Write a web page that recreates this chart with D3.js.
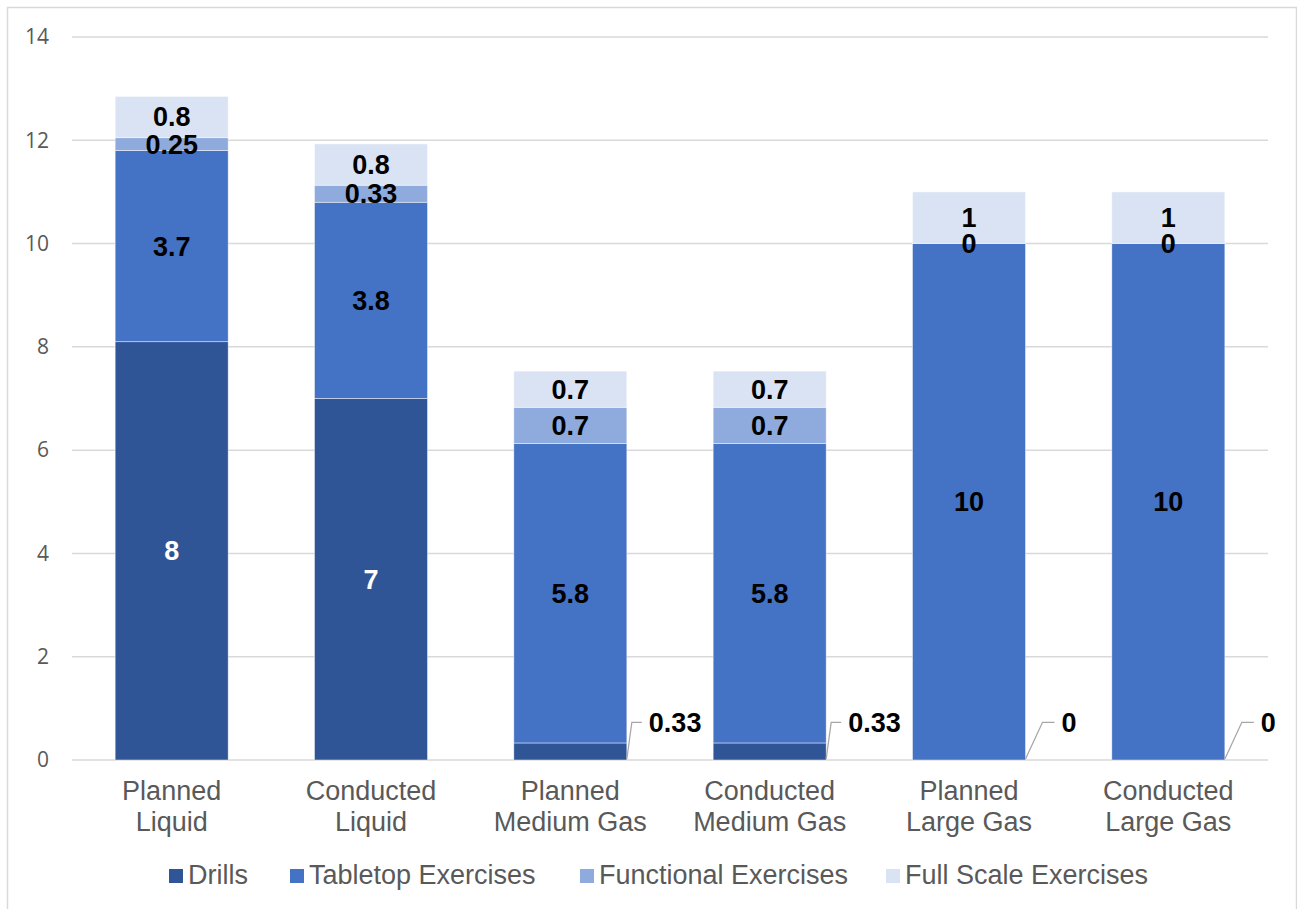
<!DOCTYPE html>
<html>
<head>
<meta charset="utf-8">
<script src="https://cdn.jsdelivr.net/npm/d3@7"></script>
<style>
  html, body { margin: 0; padding: 0; background: #fff; }
  svg { display: block; }
</style>
</head>
<body>
<div id="chart"></div>
<script>
var categories = [
  ['Planned', 'Liquid'],
  ['Conducted', 'Liquid'],
  ['Planned', 'Medium Gas'],
  ['Conducted', 'Medium Gas'],
  ['Planned', 'Large Gas'],
  ['Conducted', 'Large Gas']
];
var seriesNames = ['Drills', 'Tabletop Exercises', 'Functional Exercises', 'Full Scale Exercises'];
var drills = [8.1, 7, 0.33, 0.33, 0, 0];
var tabletop = [3.7, 3.8, 5.8, 5.8, 10, 10];
var functional = [0.25, 0.33, 0.7, 0.7, 0, 0];
var fullScale = [0.8, 0.8, 0.7, 0.7, 1, 1];
var drillsLabels = ['8', '7', '0.33', '0.33', '0', '0'];
var yTicks = [0, 2, 4, 6, 8, 10, 12, 14];

var width = 1297, height = 909;
var colors = ['#2f5597', '#4472c4', '#8faadc', '#dae3f3'];
var font = 'Liberation Sans, Arial, sans-serif';
var seriesValues = [drills, tabletop, functional, fullScale];

var svg = d3.select('#chart').append('svg')
  .attr('width', width)
  .attr('height', height);

// outer chart border
svg.append('rect')
  .attr('x', 7.5).attr('y', 7.5)
  .attr('width', 1289).attr('height', 920)
  .attr('fill', 'none')
  .attr('stroke', '#d9d9d9')
  .attr('stroke-width', 1.5);

var x = d3.scaleBand()
  .domain(d3.range(categories.length))
  .range([72, 1268])
  .paddingInner(0.433)
  .paddingOuter(0.2165);

var y = d3.scaleLinear()
  .domain([0, 14])
  .range([760, 37]);

// gridlines
svg.append('g')
  .selectAll('line')
  .data(yTicks)
  .enter()
  .append('line')
  .attr('x1', 72).attr('x2', 1268)
  .attr('y1', function (d) { return y(d); })
  .attr('y2', function (d) { return y(d); })
  .attr('stroke', '#d9d9d9')
  .attr('stroke-width', 1.5);

// y tick labels
var yAxis = d3.axisLeft(y).tickValues(yTicks).tickSize(0).tickPadding(0);
var gy = svg.append('g')
  .attr('transform', 'translate(49,0)')
  .call(yAxis);
gy.select('.domain').remove();
gy.selectAll('text')
  .attr('font-family', 'Open Sans, Liberation Sans, sans-serif')
  .attr('font-size', 21)
  .attr('fill', '#595959');

// stack
var rows = categories.map(function (c, i) {
  return { i: i, s0: drills[i], s1: tabletop[i], s2: functional[i], s3: fullScale[i] };
});
var stack = d3.stack().keys(['s0', 's1', 's2', 's3']);
var layers = stack(rows);

var layerG = svg.append('g')
  .selectAll('g')
  .data(layers)
  .enter()
  .append('g')
  .attr('fill', function (d, k) { return colors[k]; });

layerG.selectAll('rect')
  .data(function (d) { return d; })
  .enter()
  .append('rect')
  .attr('x', function (d, i) { return x(i); })
  .attr('y', function (d) { return y(d[1]); })
  .attr('width', x.bandwidth())
  .attr('height', function (d) { return y(d[0]) - y(d[1]); })
  .attr('stroke', 'rgba(255,255,255,0.6)')
  .attr('stroke-width', 0.75);

// data labels
var labelG = svg.append('g')
  .attr('font-family', font)
  .attr('font-size', 27)
  .attr('font-weight', 'bold');

layers.forEach(function (layer, k) {
  layer.forEach(function (d, i) {
    var v = seriesValues[k][i];
    var txt = k === 0 ? drillsLabels[i] : String(v);
    if (k === 0 && v < 1) {
      // small drills value: label outside with leader line
      var bx = x(i) + x.bandwidth();
      var far = v === 0;
      var ly = y(0.73);
      var kx = bx + (far ? 17 : 5);
      var ex = bx + (far ? 29 : 15);
      labelG.append('path')
        .attr('d', 'M' + bx + ',' + (y(0) - 1) + 'L' + kx + ',' + ly + 'L' + ex + ',' + ly)
        .attr('fill', 'none')
        .attr('stroke', '#a6a6a6')
        .attr('stroke-width', 1.25);
      labelG.append('text')
        .attr('x', ex + 7)
        .attr('y', ly)
        .attr('dy', '0.35em')
        .attr('fill', '#000')
        .text(txt);
      return;
    }
    labelG.append('text')
      .attr('x', x(i) + x.bandwidth() / 2)
      .attr('y', (y(d[0]) + y(d[1])) / 2)
      .attr('dy', '0.35em')
      .attr('text-anchor', 'middle')
      .attr('fill', k === 0 ? '#fff' : '#000')
      .text(txt);
  });
});

// category labels
var catG = svg.append('g')
  .attr('font-family', font)
  .attr('font-size', 27)
  .attr('fill', '#595959')
  .attr('text-anchor', 'middle');

categories.forEach(function (c, i) {
  c.forEach(function (line, j) {
    catG.append('text')
      .attr('x', x(i) + x.bandwidth() / 2)
      .attr('y', 791 + j * 31)
      .attr('dy', '0.35em')
      .text(line);
  });
});

// legend
var legendX = [169, 290, 580, 886];
var legend = svg.append('g')
  .attr('font-family', font)
  .attr('font-size', 27)
  .attr('fill', '#595959');

seriesNames.forEach(function (name, k) {
  legend.append('rect')
    .attr('x', legendX[k])
    .attr('y', 869)
    .attr('width', 14)
    .attr('height', 14)
    .attr('fill', colors[k]);
  legend.append('text')
    .attr('x', legendX[k] + 19)
    .attr('y', 875)
    .attr('dy', '0.35em')
    .text(name);
});
</script>
</body>
</html>
